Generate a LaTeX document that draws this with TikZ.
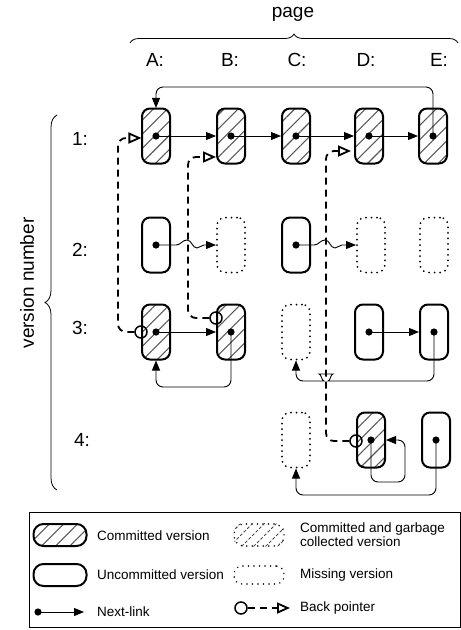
\documentclass[tikz,border=0pt]{standalone}
\usepackage{fontspec}
\setmainfont{Liberation Sans}
\usetikzlibrary{arrows.meta,patterns.meta,decorations.pathreplacing,calc}
\begin{document}
\begin{tikzpicture}[x=1pt,y=-1pt,
 box/.style={draw,line width=2pt,rounded corners=8pt,minimum width=28pt,minimum height=55pt,inner sep=0pt},
 comm/.style={box,pattern={Lines[angle=45,distance=10pt,line width=1.1pt]},pattern color=gray!70!black},
 missing/.style={draw,line width=2pt,line cap=round,dash pattern=on 0pt off 5.5pt,rounded corners=8pt,minimum width=28pt,minimum height=55pt,inner sep=0pt},
 nl/.style={line width=0.9pt,-{Triangle[length=10pt,width=8pt]}},
 bp/.style={line width=1.8pt,dash pattern=on 7pt off 5pt,-{Triangle[open,length=13pt,width=11pt]}},
 bpc/.style={circle,draw,line width=1.5pt,minimum size=12pt,inner sep=0pt},
 lbl/.style={font=\fontsize{19}{22}\selectfont},
 big/.style={font=\fontsize{19}{22}\selectfont},
 leg/.style={font=\fontsize{13.5}{14}\selectfont,anchor=west,inner sep=0pt},
]
\useasboundingbox (0,0) rectangle (461,630);

% headings
\node[big] (page) at (293,14) {page};
\draw[line width=0.8pt,decorate,decoration={brace,amplitude=9pt}] (130,43) -- (458,43);
\node[big,rotate=90] (vn) at (27,283) {version number};
\draw[line width=0.8pt,decorate,decoration={brace,amplitude=12pt}] (57,490) -- (57,115);
\node[lbl] (cA) at (155,60) {A:};
\node[lbl] (cB) at (230,60) {B:};
\node[lbl] (cC) at (297,60) {C:};
\node[lbl] (cD) at (366,60) {D:};
\node[lbl] (cE) at (439,60) {E:};
\node[lbl] (r1) at (80,139) {1:};
\node[lbl] (r2) at (80,250) {2:};
\node[lbl] (r3) at (80,328) {3:};
\node[lbl] (r4) at (82,440) {4:};

% row 1
\node[comm] (A1) at (156,136) {};
\node[comm] (B1) at (231,136) {};
\node[comm] (C1) at (296,136) {};
\node[comm] (D1) at (369,136) {};
\node[comm] (E1) at (433,136) {};
% row 2
\node[box] (A2) at (156,245) {};
\node[missing] (B2) at (231,245) {};
\node[box] (C2) at (296,245) {};
\node[missing] (D2) at (371,245) {};
\node[missing] (E2) at (434,245) {};
% row 3
\node[comm] (A3) at (156,332) {};
\node[comm] (B3) at (231,332) {};
\node[missing] (C3) at (296,332) {};
\node[box] (D3) at (369,332) {};
\node[box] (E3) at (434,332) {};
% row 4
\node[missing] (C4) at (296,440) {};
\node[comm] (D4) at (371,440) {};
\node[box] (E4) at (436,440) {};

% dots
\foreach \n in {A1,B1,C1,D1,E1,A2,C2,A3,B3,D3,E3,D4,E4}
  \fill (\n.center) circle (3.6pt);

% next links row 1
\draw[nl] (A1.center) -- (B1.west);
\draw[nl] (B1.center) -- (C1.west);
\draw[nl] (C1.center) -- (D1.west);
\draw[nl] (D1.center) -- (E1.west);
\draw[nl,rounded corners=7pt] (E1.center) -- (E1.center |- 0,87) -- (A1.center |- 0,87) -- (A1.north);
% row 2 (with hops)
\draw[nl] (A2.center) -- (176,245) to[out=0,in=180] (187,240) to[out=0,in=180] (197,248) to[out=0,in=180] (204,245) -- (B2.west);
\draw[nl] (C2.center) -- (314,245) to[out=0,in=180] (325,240) to[out=0,in=180] (335,248) to[out=0,in=180] (342,245) -- (D2.west);
% row 3
\draw[nl] (A3.center) -- (B3.west);
\draw[nl,rounded corners=7pt] (B3.center) -- (231,387) -- (156,387) -- (A3.south);
\draw[nl] (D3.center) -- (E3.west);
\draw[nl,rounded corners=7pt] (E3.center) -- (434,381) -- (335,381)
  .. controls (330,381) and (331,374) .. (326,374)
  .. controls (321,374) and (322,381) .. (317,381) -- (296,381) -- (C3.south);
% row 4
\draw[nl,rounded corners=7pt] (D4.center) -- (371,482) -- (405,482) -- (405,440) -- (D4.east);
\draw[nl,rounded corners=7pt] (E4.center) -- (436,495) -- (296,495) -- (C4.south);

% back pointers
\node[bpc] (pA) at (141,332) {};
\node[bpc] (pB) at (216,318) {};
\node[bpc] (pD) at (356,441) {};
\draw[bp,rounded corners=8pt] (pA.west) -- (118,332) -- (118,138) -- (A1.west |- 0,138);
\draw[bp,rounded corners=8pt] (pB.west) -- (188,318) -- (188,157) -- (B1.west |- 0,157);
\draw[bp,rounded corners=8pt,shorten >=3pt] (pD.west) -- (326,441) -- (326,151) -- (D1.west |- 0,151);

% legend
\draw[line width=1pt] (29,512) rectangle (460,627);
\node[comm,minimum width=53pt,minimum height=22pt,rounded corners=10pt] (LC) at (60,535) {};
\node[leg] (LCt) at (97,536) {Committed version};
\node[box,minimum width=53pt,minimum height=22pt,rounded corners=10pt] (LU) at (60,575) {};
\node[leg] (LUt) at (97,575) {Uncommitted version};
\coordinate (LN1) at (38,612);
\coordinate (LN2) at (84,612);
\fill (LN1) circle (3.6pt);
\draw[nl] (LN1) -- (LN2);
\node[leg] (LNt) at (97,612) {Next-link};

\node[missing,minimum width=50pt,minimum height=22pt,rounded corners=10pt,line width=1.6pt] (LG) at (259,535) {};
\begin{scope}
\clip[rounded corners=10pt] (LG.south west) rectangle (LG.north east);
\foreach \i in {-30,-18,...,30}
  \draw[gray!60!black,line width=1pt,dash pattern=on 3pt off 2pt] ($(LG.center)+(\i-15,15)$) -- ++(30,-30);
\end{scope}
\node[leg,align=left] (LGt) at (300,535) {Committed and garbage\\collected version};
\node[missing,minimum width=50pt,minimum height=18pt,rounded corners=8pt,line width=1.6pt] (LM) at (259,575) {};
\node[leg] (LMt) at (300,575) {Missing version};
\node[bpc] (LBc) at (241,608) {};
\coordinate (LBe) at (290,608);
\draw[bp] (LBc.east) -- (LBe);
\node[leg] (LBt) at (300,608) {Back pointer};
\end{tikzpicture}
\end{document}
